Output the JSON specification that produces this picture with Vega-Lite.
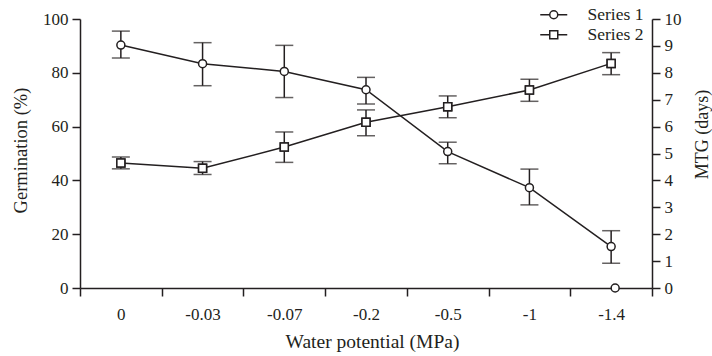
{
  "$schema": "https://vega.github.io/schema/vega-lite/v6.json",
  "width": 572,
  "height": 269,
  "autosize": {"type": "none"},
  "padding": {"left": 80, "top": 19, "right": 60, "bottom": 68},
  "background": "white",
  "config": {
    "font": "Liberation Serif",
    "view": {"stroke": null},
    "axis": {
      "domainColor": "#231f20", "domainWidth": 1.5,
      "tickColor": "#231f20", "tickWidth": 1.5, "tickSize": 8,
      "labelFont": "Liberation Serif", "labelFontSize": 17, "labelColor": "#231f20",
      "titleFont": "Liberation Serif", "titleFontSize": 18.5, "titleFontWeight": "normal", "titleColor": "#231f20",
      "grid": false, "labelOverlap": false
    },
    "axisRight": {"tickCount": 11, "labelOverlap": false}
  },
  "data": {
    "values": [
      {"wp": "0", "s1": 90.3, "s1lo": 85.5, "s1hi": 95.5, "s2": 4.65, "s2lo": 4.43, "s2hi": 4.87},
      {"wp": "-0.03", "s1": 83.4, "s1lo": 75.2, "s1hi": 91.2, "s2": 4.45, "s2lo": 4.22, "s2hi": 4.7},
      {"wp": "-0.07", "s1": 80.5, "s1lo": 70.8, "s1hi": 90.2, "s2": 5.24, "s2lo": 4.67, "s2hi": 5.8},
      {"wp": "-0.2", "s1": 73.7, "s1lo": 68.4, "s1hi": 78.3, "s2": 6.16, "s2lo": 5.66, "s2hi": 6.62},
      {"wp": "-0.5", "s1": 50.7, "s1lo": 46.2, "s1hi": 54.2, "s2": 6.74, "s2lo": 6.33, "s2hi": 7.14},
      {"wp": "-1", "s1": 37.3, "s1lo": 30.9, "s1hi": 44.2, "s2": 7.36, "s2lo": 6.94, "s2hi": 7.76},
      {"wp": "-1.4", "s1": 15.4, "s1lo": 9.2, "s1hi": 21.3, "s2": 8.35, "s2lo": 7.93, "s2hi": 8.75, "z": 0}
    ]
  },
  "encoding": {
    "x": {
      "field": "wp", "type": "nominal",
      "sort": ["0", "-0.03", "-0.07", "-0.2", "-0.5", "-1", "-1.4"],
      "scale": {"type": "band", "paddingInner": 0, "paddingOuter": 0},
      "axis": {"title": "Water potential (MPa)", "titleFontSize": 19.5, "titleX": 292, "labelAngle": 0, "tickBand": "extent", "labelPadding": 10, "titlePadding": 10}
    }
  },
  "layer": [
    {
      "layer": [
        {
          "mark": {"type": "rule", "color": "#231f20", "strokeWidth": 1.5},
          "encoding": {
            "y": {"field": "s1lo", "type": "quantitative", "scale": {"domain": [0, 100]}, "title": "Germination (%)",
              "axis": {"values": [0, 20, 40, 60, 80, 100], "labelPadding": 4, "titleY": 131, "titleX": -60, "titleBaseline": "middle", "titleAngle": 270}},
            "y2": {"field": "s1hi"}
          }
        },
        {
          "mark": {"type": "tick", "color": "#231f20", "thickness": 1.5, "size": 18, "orient": "horizontal"},
          "encoding": {"y": {"field": "s1lo", "type": "quantitative", "title": "Germination (%)"}}
        },
        {
          "mark": {"type": "tick", "color": "#231f20", "thickness": 1.5, "size": 18, "orient": "horizontal"},
          "encoding": {"y": {"field": "s1hi", "type": "quantitative", "title": "Germination (%)"}}
        },
        {
          "mark": {"type": "line", "color": "#231f20", "strokeWidth": 1.5},
          "encoding": {"y": {"field": "s1", "type": "quantitative", "title": "Germination (%)"}}
        },
        {
          "mark": {"type": "point", "shape": "circle", "filled": false, "fill": "white", "fillOpacity": 1, "stroke": "#231f20", "strokeWidth": 1.5, "size": 64, "opacity": 1},
          "encoding": {"y": {"field": "s1", "type": "quantitative", "title": "Germination (%)"}}
        },
        {
          "mark": {"type": "point", "filled": false, "opacity": 0, "size": 100},
          "encoding": {
            "y": {"field": "s1", "type": "quantitative", "title": "Germination (%)"},
            "shape": {"datum": "Series 1", "type": "nominal",
              "scale": {"domain": ["Series 1", "Series 2"], "range": [
                "M-2.7,0H-0.8M0.8,0H2.7M0.8,0A0.8,0.8,0,1,1,-0.8,0A0.8,0.8,0,1,1,0.8,0Z",
                "M-2.7,0H-0.8M0.8,0H2.7M-0.8,-0.8H0.8V0.8H-0.8Z"]},
              "legend": {
                "title": null, "orient": "none", "legendX": 465, "legendY": -13,
                "symbolSize": 100, "labelOffset": 25, "labelFontSize": 17.5, "labelColor": "#231f20",
                "labelFont": "Liberation Serif", "rowPadding": 1, "padding": 0,
                "symbolStrokeColor": "#231f20", "symbolFillColor": "white", "symbolStrokeWidth": 1.5, "symbolOpacity": 1
              }
            }
          }
        },
        {
          "mark": {"type": "point", "shape": "circle", "filled": false, "fill": "white", "fillOpacity": 1, "stroke": "#231f20", "strokeWidth": 1.5, "size": 64, "xOffset": 4},
          "encoding": {"y": {"field": "z", "type": "quantitative", "title": "Germination (%)"}}
        }
      ]
    },
    {
      "layer": [
        {
          "mark": {"type": "point", "shape": "square", "filled": false, "fill": "white", "fillOpacity": 1, "stroke": "#231f20", "strokeWidth": 1.5, "size": 64, "opacity": 1},
          "encoding": {"y": {"field": "s2", "type": "quantitative", "title": "MTG (days)", "scale": {"domain": [0, 10], "nice": false},
            "axis": {"orient": "right", "values": [0, 1, 2, 3, 4, 5, 6, 7, 8, 9, 10], "tickCount": 11, "format": "d", "labelOverlap": false, "labelPadding": 4, "titleFontSize": 18, "titleAngle": 270, "titleY": 115, "titleX": 50, "titleBaseline": "middle"}}}
        },
        {
          "mark": {"type": "rule", "color": "#231f20", "strokeWidth": 1.5},
          "encoding": {
            "y": {"field": "s2lo", "type": "quantitative", "title": "MTG (days)"},
            "y2": {"field": "s2hi"}
          }
        },
        {
          "mark": {"type": "tick", "color": "#231f20", "thickness": 1.5, "size": 18, "orient": "horizontal"},
          "encoding": {"y": {"field": "s2lo", "type": "quantitative", "title": "MTG (days)"}}
        },
        {
          "mark": {"type": "tick", "color": "#231f20", "thickness": 1.5, "size": 18, "orient": "horizontal"},
          "encoding": {"y": {"field": "s2hi", "type": "quantitative", "title": "MTG (days)"}}
        },
        {
          "mark": {"type": "line", "color": "#231f20", "strokeWidth": 1.5},
          "encoding": {"y": {"field": "s2", "type": "quantitative", "title": "MTG (days)"}}
        },
        {
          "mark": {"type": "point", "shape": "square", "filled": false, "fill": "white", "fillOpacity": 1, "stroke": "#231f20", "strokeWidth": 1.5, "size": 64, "opacity": 1},
          "encoding": {"y": {"field": "s2", "type": "quantitative", "title": "MTG (days)"}}
        },
        {
          "mark": {"type": "point", "filled": false, "opacity": 0, "size": 100},
          "encoding": {
            "y": {"field": "s2", "type": "quantitative", "title": "MTG (days)"},
            "shape": {"datum": "Series 2", "type": "nominal"}
          }
        }
      ]
    }
  ],
  "resolve": {"scale": {"y": "independent"}}
}
